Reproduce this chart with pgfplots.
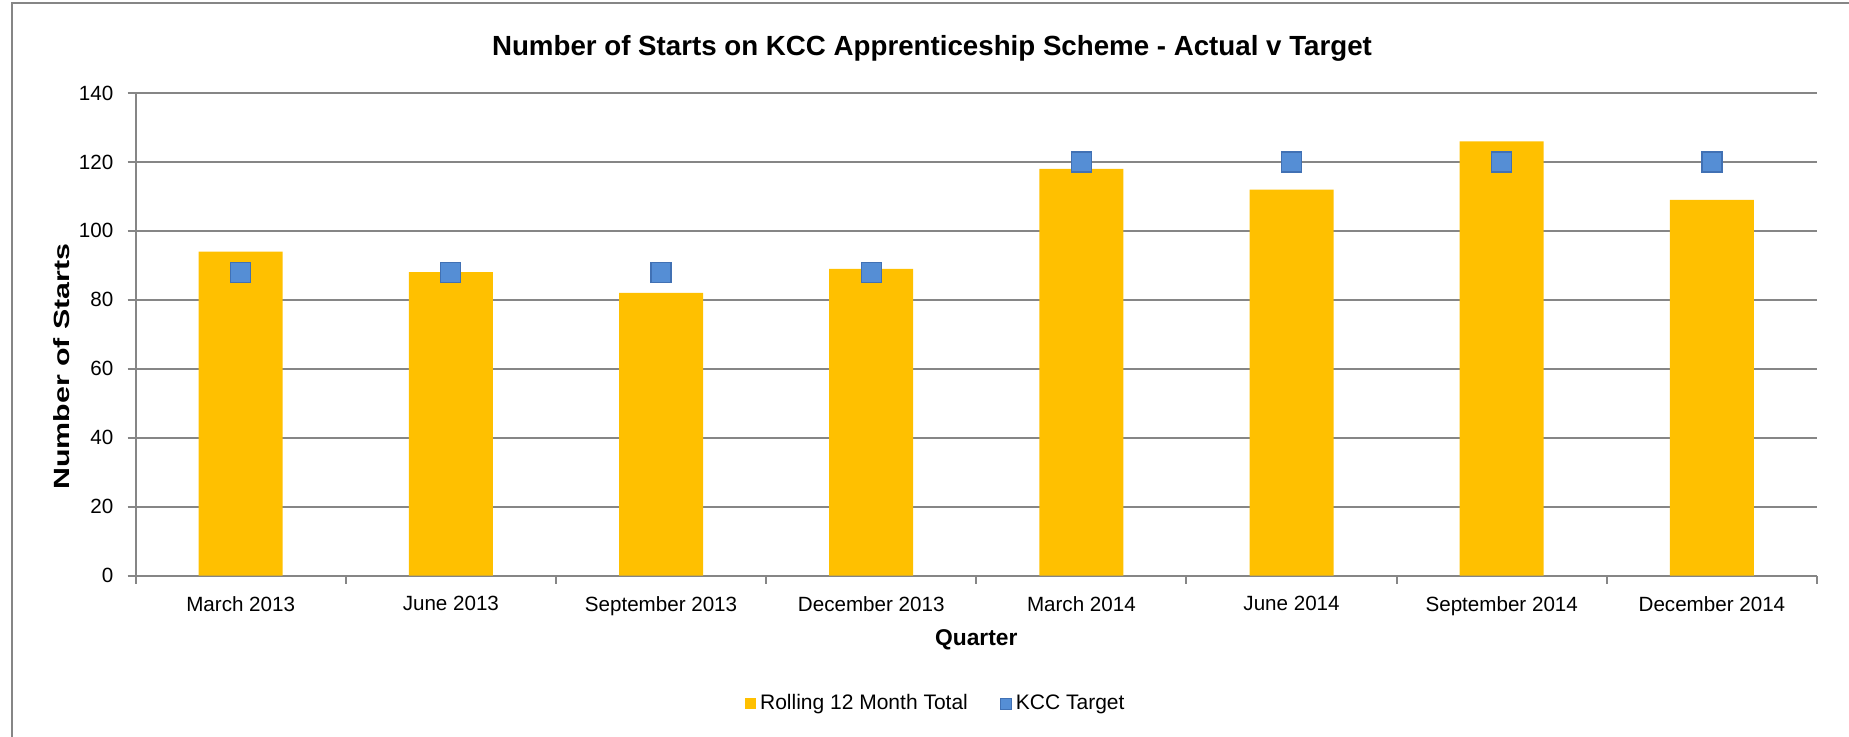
\documentclass[border=0pt]{standalone}
\usepackage{pgfplots}
\pgfplotsset{compat=1.18}
\usepackage{fontspec}
\setmainfont{Liberation Sans}

\definecolor{barc}{RGB}{255,192,0}
\definecolor{tgtfill}{RGB}{85,142,213}
\definecolor{tgtdraw}{RGB}{65,113,180}
\definecolor{gridc}{RGB}{134,134,134}

\begin{document}
\begin{tikzpicture}
\begin{axis}[
    at={(67.8pt,80.25pt)}, anchor=south west,
    scale only axis, width=840.7pt, height=241.25pt,
    xmin=-0.5, xmax=7.5, ymin=0, ymax=140,
    ytick={0,20,...,140},
    xtick={0,...,7},
    xticklabels={March 2013,June 2013,September 2013,December 2013,March 2014,June 2014,September 2014,December 2014},
    minor xtick={-0.5,0.5,...,7.5},
    major x tick style={draw=none},
    tick align=outside,
    major tick length=4pt, minor tick length=4pt,
    axis x line*=bottom, axis y line*=left,
    axis line style={gridc, line width=1pt, -},
    tick style={gridc, line width=1pt},
    ymajorgrids, grid style={gridc, line width=1pt},
    /pgf/number format/assume math mode=true,
    tick label style={font=\fontsize{10.3}{12}\selectfont, black},
    yticklabel style={xshift=-3.6pt},
    xticklabel style={yshift=-3pt},
    xlabel={Quarter},
    xlabel style={at={(axis description cs:0.5,0)}, yshift=-32pt, anchor=center,
        font=\bfseries\fontsize{11.4}{13}\selectfont},
    ylabel={Number of Starts},
    ylabel style={at={(axis description cs:-0.044,0.433)}, anchor=center,
        font=\bfseries\fontsize{11}{13}\selectfont, xscale=1.38},
    legend columns=2,
    legend cell align=left,
    legend style={at={(axis description cs:0.4765,-0.266)}, anchor=center, draw=none,
        font=\fontsize{10.5}{12}\selectfont,
        /tikz/every even column/.append style={column sep=14pt}},
]
\addplot[ybar, bar width=42pt, fill=barc, draw=none,
    legend image code/.code={\fill[barc] (0pt,-2.75pt) rectangle (5.5pt,2.75pt);}]
    coordinates {(0,94) (1,88) (2,82) (3,89) (4,118) (5,112) (6,126) (7,109)};
\addlegendentry{Rolling 12 Month Total}
\addplot[only marks, mark=square*, mark size=5pt,
    mark options={fill=tgtfill, draw=tgtdraw, line width=0.6pt},
    legend image code/.code={\filldraw[fill=tgtfill, draw=tgtdraw, line width=0.5pt] (0pt,-2.75pt) rectangle (5.5pt,2.75pt);}]
    coordinates {(0,88) (1,88) (2,88) (3,88) (4,120) (5,120) (6,120) (7,120)};
\addlegendentry{KCC Target}
\end{axis}
% chart title
\node[anchor=base, font=\bfseries\fontsize{13.85}{16}\selectfont] at (466pt,340.5pt)
    {Number of Starts on KCC Apprenticeship Scheme - Actual v Target};
\draw[gridc, line width=1pt] (5.75pt,-10pt) -- (5.75pt,366.75pt) -- (940pt,366.75pt);
\pgfresetboundingbox
\path[use as bounding box] (0,0) rectangle (924.5pt,368pt);
\end{tikzpicture}
\end{document}
